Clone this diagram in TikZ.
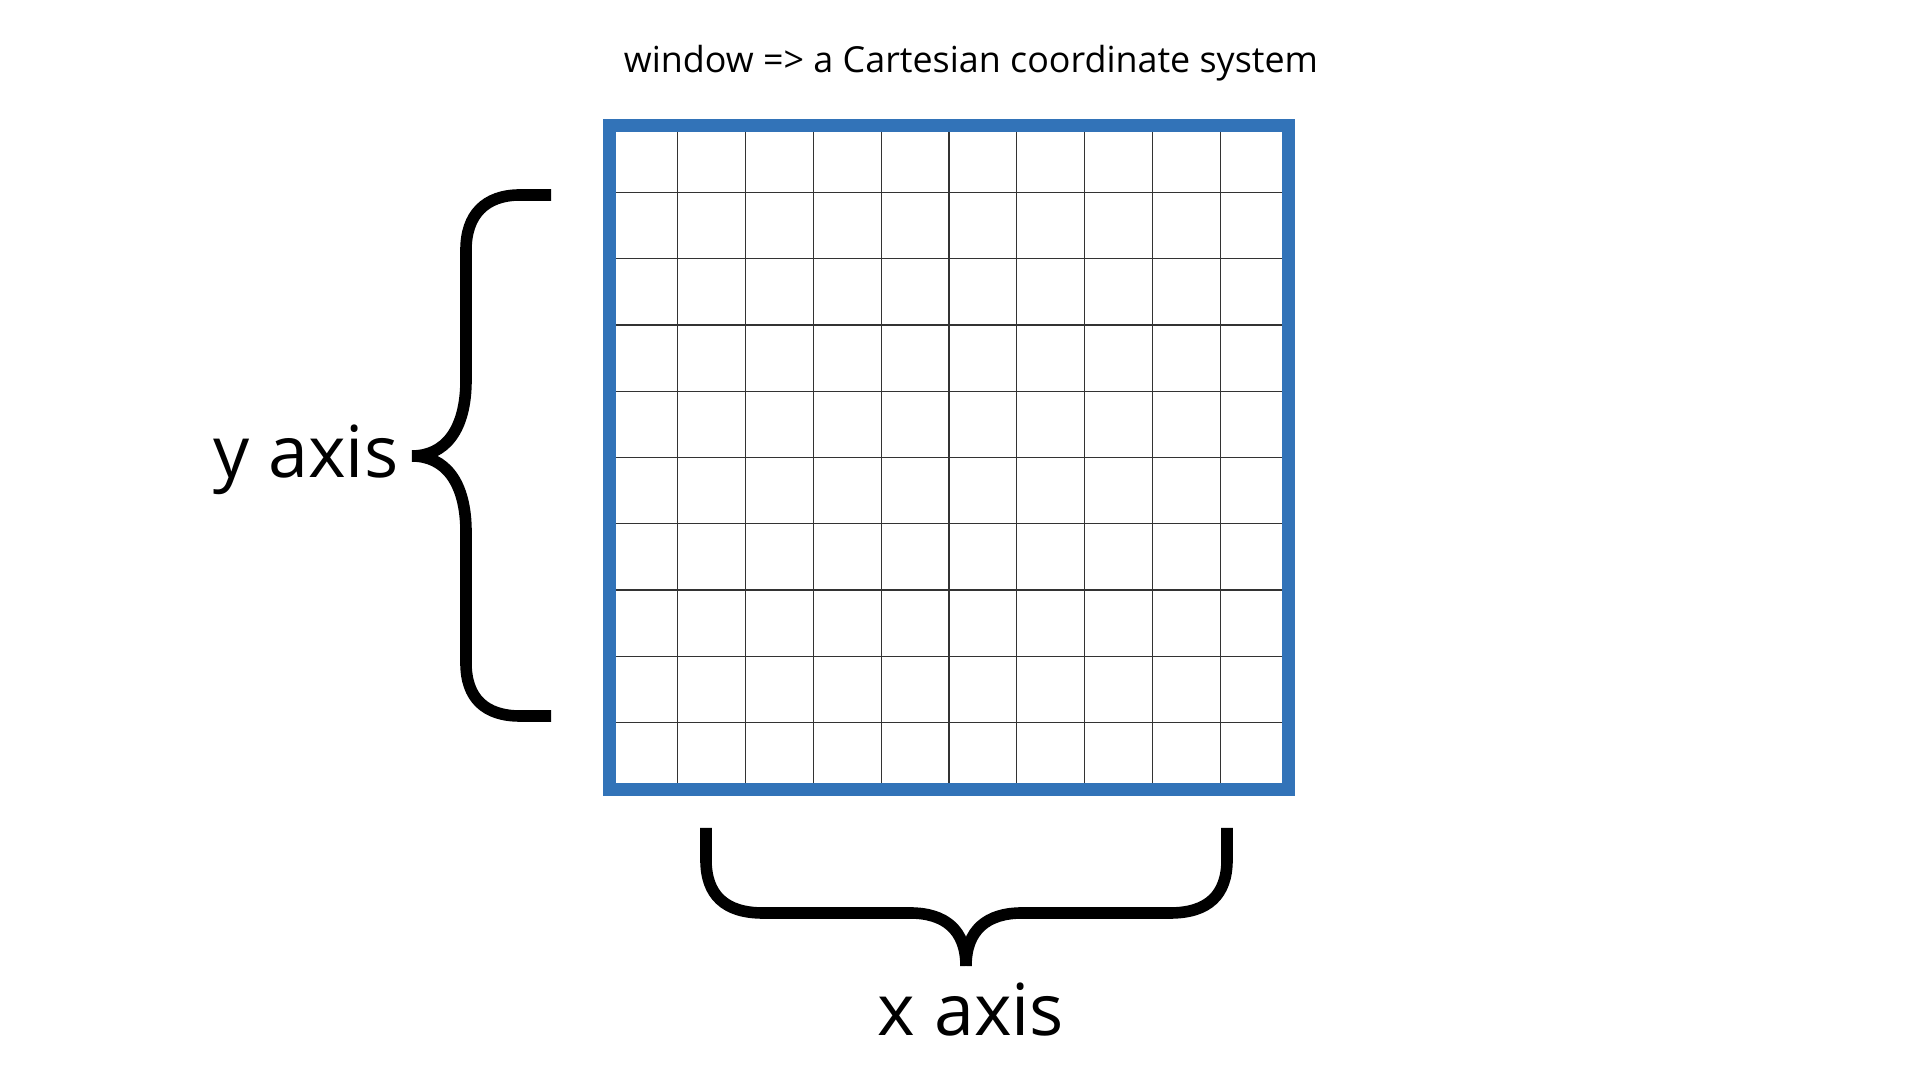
\documentclass[tikz,border=0pt]{standalone}
\usepackage{fontspec}
\setmainfont{Open Sans}
\usepackage{tikz}
\usetikzlibrary{calc}
\definecolor{WinBlue}{HTML}{3273B8}
\definecolor{GridGray}{HTML}{333333}

\begin{document}
\begin{tikzpicture}[x=0.01cm,y=-0.01cm,
    gridline/.style={GridGray,line width=0.35pt},
    bracepath/.style={black,line width=3.3pt,line cap=butt,line join=round},
    axislabel/.style={anchor=base,inner sep=0pt,font=\fontsize{20.4}{25}\selectfont}]
  \useasboundingbox (0,0) rectangle (1920,1080);
  \node[anchor=base,inner sep=0pt,font=\fontsize{10.2}{12}\selectfont] (title) at (971,73) {window => a Cartesian coordinate system};
  \foreach \k in {1,...,9} {
    \draw[gridline] ({610+\k*67.8},126) -- ({610+\k*67.8},789);
    \draw[gridline] (610,{126+\k*66.3}) -- (1288,{126+\k*66.3});
  }
  \node[draw=WinBlue,line width=3.7pt,inner sep=0pt,minimum width=6.78cm,minimum height=6.63cm] (window) at (949,457.5) {};
  \draw[bracepath] (551,195) -- (520,195) .. controls (485,195) and (466,215) .. (466,250) -- (466,380) .. controls (466,430) and (445,456) .. (412,456);
  \draw[bracepath] (412,456) .. controls (445,456) and (466,482) .. (466,532) -- (466,663) .. controls (466,698) and (485,716) .. (520,716) -- (551,716);
  \draw[bracepath] (706,828) -- (706,860) .. controls (706,895) and (725,913) .. (763,913) -- (910,913) .. controls (945,913) and (966,930) .. (966,966);
  \draw[bracepath] (966,966) .. controls (966,930) and (987,913) .. (1022,913) -- (1170,913) .. controls (1208,913) and (1227,895) .. (1227,860) -- (1227,828);
  \node[axislabel] (ylabel) at (306,478) {y axis};
  \node[axislabel] (xlabel) at (971,1036) {x axis};
\end{tikzpicture}
\end{document}
